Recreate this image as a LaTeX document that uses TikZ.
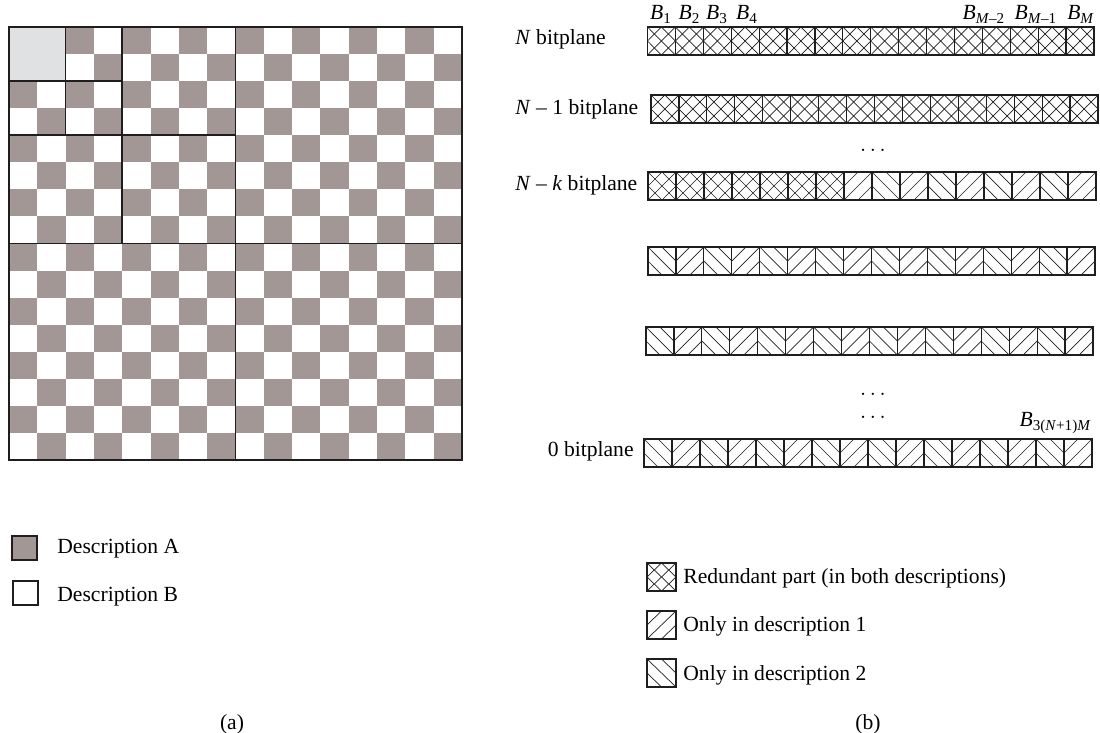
\documentclass[tikz,border=0pt]{standalone}
\usepackage{fontspec}
\setmainfont{Liberation Serif}
\usepackage{xcolor}
\usepackage{tikz}
\definecolor{descgray}{HTML}{A39796}
\definecolor{llgray}{HTML}{E0E1E3}
\definecolor{linedark}{HTML}{1E1E1E}
\tikzset{every node/.append style={font=\fontsize{10.8}{13}\selectfont,inner sep=0pt},
  cellline/.style={line width=0.6pt,draw=linedark},
  hatchline/.style={line width=0.35pt,draw=linedark},
  quadline/.style={line width=0.8pt,draw=linedark}}
% hatch fills of one bitplane cell: #1 x, #2 y (top), #3 width, #4 height
\newcommand\fwdhatch[4]{%
  \draw[hatchline] (#1,#2+#4)--(#1+#3,#2) (#1,#2+#4/2)--(#1+#3/2,#2)
    (#1+#3/2,#2+#4)--(#1+#3,#2+#4/2);}
\newcommand\backhatch[4]{%
  \draw[hatchline] (#1,#2)--(#1+#3,#2+#4) (#1+#3/2,#2)--(#1+#3,#2+#4/2)
    (#1,#2+#4/2)--(#1+#3/2,#2+#4);}
% #1 type: 0 both, 1 description 1, 2 description 2
\newcommand\bitcell[5]{%
  \ifcase#1 \fwdhatch{#2}{#3}{#4}{#5}\backhatch{#2}{#3}{#4}{#5}%
  \or \fwdhatch{#2}{#3}{#4}{#5}%
  \or \backhatch{#2}{#3}{#4}{#5}\fi
  \draw[cellline] (#2,#3) rectangle ++(#4,#5);}
\newcommand\bsub[1]{\textit{B}\textsubscript{#1}}
\newcommand\sqw{28.3125}
\newcommand\sqh{27.0625}

\begin{document}
\begin{tikzpicture}[x=0.5pt,y=-0.5pt]
  \useasboundingbox (0,0) rectangle (1100,733);
  % (a) 16x16 checkerboard, quad-tree split in three levels
  \foreach \r in {0,...,15}
    \foreach \c in {0,...,15} {
      \pgfmathtruncatemacro\chk{mod(\r+\c,2)}
      \ifnum\chk=0
        \fill[descgray] (9+\c*\sqw,27+\r*\sqh) rectangle ++(\sqw,\sqh);
      \fi
    }
  \fill[llgray] (9,27) rectangle ++(2*\sqw,2*\sqh);
  \draw[quadline] (9,27) rectangle ++(16*\sqw,16*\sqh);
  \draw[quadline] (9+8*\sqw,27)--++(0,16*\sqh) (9,27+8*\sqh)--++(16*\sqw,0);
  \draw[quadline] (9+4*\sqw,27)--++(0,8*\sqh) (9,27+4*\sqh)--++(8*\sqw,0);
  \draw[quadline] (9+2*\sqw,27)--++(0,4*\sqh) (9,27+2*\sqh)--++(4*\sqw,0);

  \fill[descgray,draw=linedark,line width=0.6pt] (12,536) rectangle (37,560);
  \draw[linedark,line width=0.6pt] (13,581) rectangle (38,605);
  \node[anchor=base west] (descA) at (57,553) {Description A};
  \node[anchor=base west] (descB) at (57,602) {Description B};
  \node (capa) at (232,724) {(a)};

  % (b) bitplanes: left x / top y / width / mode
  \foreach \rx/\ry/\rw/\mode in {647.5/27/446.5/0, 651/95/447/0, 648/172/448/1,
      648/247/447/2, 646/327/447/2, 644/439/448/2}
    \foreach \i in {0,...,15} {
      \pgfmathsetmacro\cx{\rx+\i*\rw/16}
      \pgfmathsetmacro\cw{\rw/16}
      \pgfmathtruncatemacro\ctype{ifthenelse(\mode==0,0,
        ifthenelse(\mode==1,ifthenelse(\i<7,0,ifthenelse(mod(\i-7,2)==0,1,2)),
        ifthenelse(mod(\i,2)==0,2,1)))}
      \bitcell{\ctype}{\cx}{\ry}{\cw}{28}
    }
  \node[anchor=base west] (lblN) at (515,45) {\textit{N} bitplane};
  \node[anchor=base west] (lblNa) at (515,115) {\textit{N} – 1 bitplane};
  \node[anchor=base west] (lblNk) at (515,191) {\textit{N} – \textit{k} bitplane};
  \node[anchor=base east] (lblZero) at (634,457) {0 bitplane};
  \node[anchor=base] (bA) at (661,20) {\bsub{1}};
  \node[anchor=base] (bB) at (689.5,20) {\bsub{2}};
  \node[anchor=base] (bC) at (717,20) {\bsub{3}};
  \node[anchor=base] (bD) at (747,20) {\bsub{4}};
  \node[anchor=base] (bM2) at (984,20) {\bsub{\textit{M}–2}};
  \node[anchor=base] (bM1) at (1036,20) {\bsub{\textit{M}–1}};
  \node[anchor=base] (bM) at (1081,20) {\bsub{\textit{M}}};
  \node[anchor=base east] (bLast) at (1092,427) {\bsub{3(\textit{N}+1)\textit{M}}};
  \node[anchor=base] (dotsA) at (873,152) {$\ldots$};
  \node[anchor=base] (dotsB) at (873,395) {$\ldots$};
  \node[anchor=base] (dotsC) at (873,418) {$\ldots$};

  \bitcell{0}{647}{563}{29}{28}
  \bitcell{1}{647}{611}{29}{28}
  \bitcell{2}{647}{659}{29}{28}
  \node[anchor=base west] (keyBoth) at (683,583) {Redundant part (in both descriptions)};
  \node[anchor=base west] (keyOne) at (683,632) {Only in description 1};
  \node[anchor=base west] (keyTwo) at (683,680) {Only in description 2};
  \node (capb) at (868,724) {(b)};
\end{tikzpicture}
\end{document}
